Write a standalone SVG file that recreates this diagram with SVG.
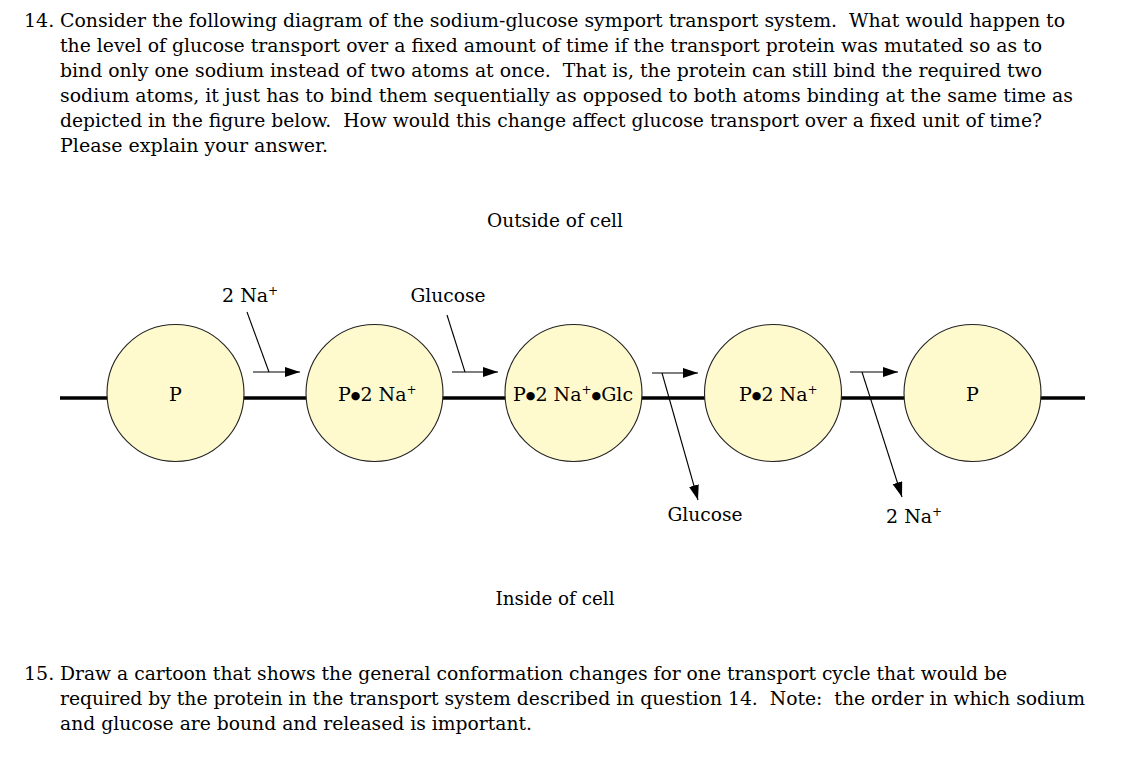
<svg xmlns="http://www.w3.org/2000/svg" width="1136" height="761" viewBox="0 0 1136 761">
<style>
text{font-family:"DejaVu Serif","Liberation Serif",serif;fill:#000;white-space:pre}
.q{font-size:19px}
.lb{font-size:19px}
.sup{font-size:12px}
.bul{font-size:11px}
.node circle{fill:#FFFACD;stroke:#222;stroke-width:1.1}
.mem{stroke:#000;stroke-width:3.5}
.ln{stroke:#000;stroke-width:1.1;fill:none}
</style>
<defs>
<marker id="ah" markerUnits="userSpaceOnUse" markerWidth="16" markerHeight="11" refX="15" refY="5" orient="auto">
<path d="M0,0 L15,5 L0,10 z" fill="#000"/>
</marker>
</defs>
<rect width="1136" height="761" fill="#fff"/>
<g id="question14">
<text class="q" x="24" y="27">14.</text>
<text class="q" x="60" y="27" textLength="1005" lengthAdjust="spacingAndGlyphs">Consider the following diagram of the sodium-glucose symport transport system.  What would happen to</text>
<text class="q" x="60" y="52" textLength="982" lengthAdjust="spacingAndGlyphs">the level of glucose transport over a fixed amount of time if the transport protein was mutated so as to</text>
<text class="q" x="60" y="77" textLength="982" lengthAdjust="spacingAndGlyphs">bind only one sodium instead of two atoms at once.  That is, the protein can still bind the required two</text>
<text class="q" x="60" y="102" textLength="1013" lengthAdjust="spacingAndGlyphs">sodium atoms, it just has to bind them sequentially as opposed to both atoms binding at the same time as</text>
<text class="q" x="60" y="127" textLength="982" lengthAdjust="spacingAndGlyphs">depicted in the figure below.  How would this change affect glucose transport over a fixed unit of time?</text>
<text class="q" x="60" y="152" textLength="268" lengthAdjust="spacingAndGlyphs">Please explain your answer.</text>
</g>
<text class="lb" x="555" y="227" text-anchor="middle" textLength="136" lengthAdjust="spacingAndGlyphs">Outside of cell</text>
<text class="lb" x="555" y="605" text-anchor="middle" textLength="119" lengthAdjust="spacingAndGlyphs">Inside of cell</text>
<line class="mem" x1="60" y1="398" x2="1085" y2="398"/>
<g id="connectors">
<line class="ln" x1="253" y1="372" x2="300" y2="372" marker-end="url(#ah)"/>
<line class="ln" x1="247" y1="312" x2="269" y2="372"/>
<line class="ln" x1="452" y1="372" x2="498" y2="372" marker-end="url(#ah)"/>
<line class="ln" x1="447" y1="315" x2="465" y2="372"/>
<line class="ln" x1="652" y1="373" x2="698" y2="373" marker-end="url(#ah)"/>
<line class="ln" x1="662" y1="373" x2="698" y2="500" marker-end="url(#ah)"/>
<line class="ln" x1="850" y1="372" x2="898" y2="372" marker-end="url(#ah)"/>
<line class="ln" x1="862" y1="372" x2="902" y2="497" marker-end="url(#ah)"/>
</g>
<g id="label-na-in"><text class="lb" x="222" y="302">2 Na<tspan class="sup" dy="-7">+</tspan></text></g>
<g id="label-glc-in"><text class="lb" x="448" y="302" text-anchor="middle" textLength="75" lengthAdjust="spacingAndGlyphs">Glucose</text></g>
<g id="label-glc-out"><text class="lb" x="705" y="521" text-anchor="middle" textLength="75" lengthAdjust="spacingAndGlyphs">Glucose</text></g>
<g id="label-na-out"><text class="lb" x="886" y="523">2 Na<tspan class="sup" dy="-7">+</tspan></text></g>
<g id="node1" class="node"><circle cx="175.5" cy="393" r="68.5"/><text class="lb" x="175.5" y="401" text-anchor="middle">P</text></g>
<g id="node2" class="node"><circle cx="374.5" cy="393" r="68.5"/><text class="lb" x="338" y="401">P<tspan class="bul" dy="-2">●</tspan><tspan dy="2">2 Na</tspan><tspan class="sup" dy="-7">+</tspan></text></g>
<g id="node3" class="node"><circle cx="573.5" cy="393" r="68.5"/><text class="lb" x="513" y="401">P<tspan class="bul" dy="-2">●</tspan><tspan dy="2">2 Na</tspan><tspan class="sup" dy="-7">+</tspan><tspan class="bul" dy="5">●</tspan><tspan dy="2">Glc</tspan></text></g>
<g id="node4" class="node"><circle cx="773" cy="393" r="68.5"/><text class="lb" x="739" y="401">P<tspan class="bul" dy="-2">●</tspan><tspan dy="2">2 Na</tspan><tspan class="sup" dy="-7">+</tspan></text></g>
<g id="node5" class="node"><circle cx="972.5" cy="393" r="68.5"/><text class="lb" x="972.5" y="401" text-anchor="middle">P</text></g>
<g id="question15">
<text class="q" x="24" y="680">15.</text>
<text class="q" x="60" y="680" textLength="947" lengthAdjust="spacingAndGlyphs">Draw a cartoon that shows the general conformation changes for one transport cycle that would be</text>
<text class="q" x="60" y="705" textLength="1025" lengthAdjust="spacingAndGlyphs">required by the protein in the transport system described in question 14.  Note:  the order in which sodium</text>
<text class="q" x="60" y="730" textLength="472" lengthAdjust="spacingAndGlyphs">and glucose are bound and released is important.</text>
</g>
</svg>
